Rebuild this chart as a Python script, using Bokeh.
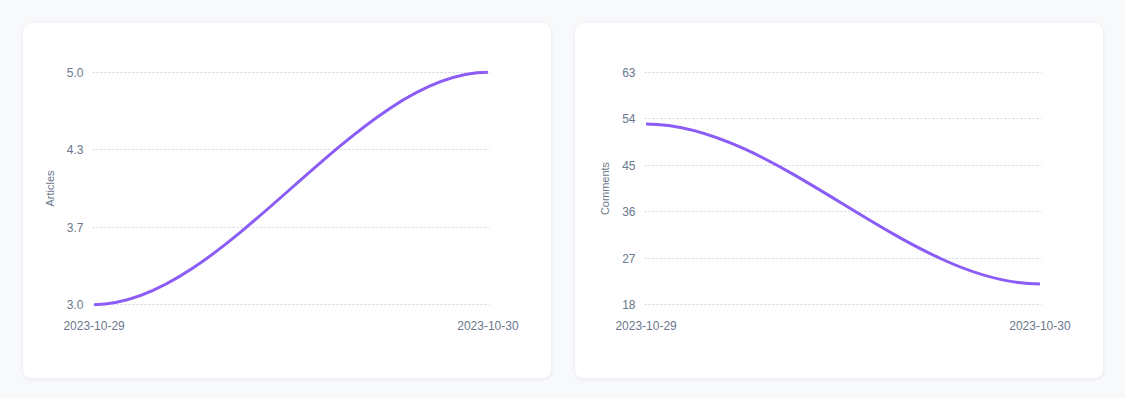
from datetime import datetime
from bokeh.plotting import figure
from bokeh.layouts import row
from bokeh.models import FixedTicker, NumeralTickFormatter, DatetimeTickFormatter, Range1d, GlobalInlineStyleSheet
from bokeh.embed import file_html
from bokeh.resources import INLINE

# ---- data ----
dates = ["2023-10-29", "2023-10-30"]
articles = [3.0, 5.0]
comments = [53.0, 22.0]
articles_ticks = [3.0, 3.6667, 4.3333, 5.0]
comments_ticks = [18, 27, 36, 45, 54, 63]

LINE = "#8b5cf6"
TXT = "#6b778c"
GRID = "#cfd4dc"
FONT = "Liberation Sans"

xs = [datetime.strptime(d, "%Y-%m-%d") for d in dates]
xms = [(x - datetime(1970, 1, 1)).total_seconds() * 1000 for x in xs]


def make(values, ticks, label, fmt, left_margin):
    lo, hi = ticks[0], ticks[-1]
    pad_y = (hi - lo) * 0.008
    pad_x = (xms[1] - xms[0]) * 0.004
    p = figure(width=528, height=355, x_axis_type="datetime",
               output_backend="svg", toolbar_location=None,
               x_range=Range1d(xms[0] - pad_x, xms[1] + pad_x),
               y_range=Range1d(lo - pad_y, hi + pad_y),
               min_border_left=69, min_border_right=62,
               min_border_top=47, min_border_bottom=72,
               margin=(23, 12, 12, left_margin),
               styles={"background-color": "white", "border-radius": "8px",
                       "box-shadow": "0 1px 4px rgba(20,30,60,0.08)"})
    p.border_fill_color = None
    p.background_fill_color = None
    p.outline_line_color = None

    dx = (xms[1] - xms[0]) / 3.0
    p.bezier(x0=[xms[0]], y0=[values[0]], x1=[xms[1]], y1=[values[1]],
             cx0=[xms[0] + dx], cy0=[values[0]], cx1=[xms[1] - dx], cy1=[values[1]],
             line_color=LINE, line_width=3)

    # axes
    p.yaxis.ticker = FixedTicker(ticks=ticks)
    p.yaxis.formatter = NumeralTickFormatter(format=fmt)
    p.xaxis.ticker = FixedTicker(ticks=xms)
    p.xaxis.formatter = DatetimeTickFormatter(days="%Y-%m-%d", hours="%Y-%m-%d",
                                              months="%Y-%m-%d", years="%Y-%m-%d")
    for ax in (p.xaxis, p.yaxis):
        ax.axis_line_color = None
        ax.major_tick_line_color = None
        ax.minor_tick_line_color = None
        ax.major_tick_out = 0
        ax.minor_tick_out = 0
        ax.major_label_text_color = TXT
        ax.major_label_text_font = FONT
    p.yaxis.major_label_text_font_size = "12px"
    p.yaxis.major_label_standoff = 9
    p.xaxis.major_label_text_font_size = "12px"
    p.xaxis.major_label_standoff = 14
    p.yaxis.axis_label = label
    p.yaxis.axis_label_text_font = FONT
    p.yaxis.axis_label_text_font_size = "11px"
    p.yaxis.axis_label_text_font_style = "normal"
    p.yaxis.axis_label_text_color = TXT
    p.yaxis.axis_label_standoff = 8

    p.xgrid.grid_line_color = None
    p.ygrid.ticker = FixedTicker(ticks=ticks)
    p.ygrid.grid_line_color = GRID
    p.ygrid.grid_line_dash = "2 2"
    p.ygrid.grid_line_width = 1
    return p


p1 = make(articles, articles_ticks, "Articles", "0.0", 23)
p2 = make(comments, comments_ticks, "Comments", "0", 12)

layout = row(p1, p2, stylesheets=[GlobalInlineStyleSheet(css="body { background-color: #f8f9fb; }")])

open("out.html", "w").write(file_html(layout, INLINE))
